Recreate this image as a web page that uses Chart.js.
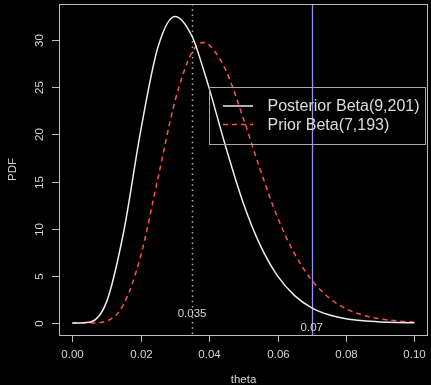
<!DOCTYPE html>
<html>
<head>
<meta charset="utf-8">
<script src="https://cdn.jsdelivr.net/npm/chart.js@4.4.1/dist/chart.umd.min.js"></script>
<style>
  html, body { margin: 0; padding: 0; background: #000; }
  canvas { display: block; }
</style>
</head>
<body>
<canvas id="betaChart" width="431" height="385"></canvas>
<script>
// values
const THETA = [0, 0.005, 0.01, 0.015, 0.02, 0.025, 0.03, 0.035, 0.0385, 0.04, 0.045,
               0.05, 0.055, 0.06, 0.065, 0.07, 0.075, 0.08, 0.085, 0.09, 0.095, 0.1];
const POSTERIOR_PDF = [0, 0.09, 2.24, 9.65, 20.4, 29.2, 32.5, 30.4, 26.7, 24.9, 18.5,
                       12.7, 8.2, 4.99, 2.9, 1.61, 0.87, 0.45, 0.23, 0.11, 0.05, 0.03];
const PRIOR_PDF = [0, 0.002, 0.21, 1.98, 7.13, 15.3, 23.5, 28.7, 29.75, 29.5, 26.7,
                   21.7, 16.2, 11.2, 7.34, 4.54, 2.69, 1.52, 0.83, 0.44, 0.22, 0.11];
const X_TICKS = [0, 0.02, 0.04, 0.06, 0.08, 0.10];
const Y_TICKS = [0, 5, 10, 15, 20, 25, 30];
const MARKERS = [0.035, 0.07];
const MARKER_LABELS = ['0.035', '0.07'];
const MARKER_LABEL_Y = [1, -0.5];
const LEGEND_LABELS = ['Posterior Beta(9,201)', 'Prior Beta(7,193)'];

const FG = '#d4d4d4';
const LINE_FG = '#bdbdbd';
const FONT = '"Liberation Sans", Arial, sans-serif';
const WHITE = '#ececec';
const RED = '#ff5050';

const overlay = {
    id: 'overlay',
    beforeDatasetsDraw(chart) {
        const { ctx, chartArea: a, scales: { x } } = chart;
        ctx.save();
        // dotted line at 0.035, solid blue at 0.07
        MARKERS.forEach((v, i) => {
            const px = Math.round(x.getPixelForValue(v)) + 0.5;
            ctx.beginPath();
            if (i === 0) {
                ctx.strokeStyle = '#b0b0b0';
                ctx.lineWidth = 1.5;
                ctx.setLineDash([1.5, 3.8]);
            } else {
                ctx.strokeStyle = '#9494e6';
                ctx.lineWidth = 1.3;
                ctx.setLineDash([]);
            }
            ctx.moveTo(px, a.top);
            ctx.lineTo(px, a.bottom);
            ctx.stroke();
        });
        ctx.restore();
    },
    afterDraw(chart) {
        const { ctx, chartArea: a, scales: { x, y } } = chart;
        ctx.save();
        ctx.setLineDash([]);
        ctx.strokeStyle = LINE_FG;
        ctx.lineWidth = 1;

        // box
        ctx.strokeRect(Math.round(a.left) + 0.5, Math.round(a.top) + 0.5,
                       Math.round(a.right - a.left) - 1, Math.round(a.bottom - a.top));

        ctx.fillStyle = FG;
        ctx.font = '11.5px ' + FONT;

        // x ticks
        ctx.textAlign = 'center';
        ctx.textBaseline = 'middle';
        X_TICKS.forEach(v => {
            const px = Math.round(x.getPixelForValue(v)) + 0.5;
            ctx.beginPath();
            ctx.moveTo(px, a.bottom);
            ctx.lineTo(px, a.bottom + 7);
            ctx.stroke();
            ctx.fillText(v.toFixed(2), px, a.bottom + 20);
        });

        // y ticks, labels parallel to the axis
        Y_TICKS.forEach(v => {
            const py = Math.round(y.getPixelForValue(v)) + 0.5;
            ctx.beginPath();
            ctx.moveTo(a.left, py);
            ctx.lineTo(a.left - 7, py);
            ctx.stroke();
            ctx.save();
            ctx.translate(a.left - 19, py);
            ctx.rotate(-Math.PI / 2);
            ctx.fillText(String(v), 0, 0);
            ctx.restore();
        });

        // axis titles
        ctx.fillText('theta', (a.left + a.right) / 2, 380);
        ctx.save();
        ctx.translate(13, (a.top + a.bottom) / 2);
        ctx.rotate(-Math.PI / 2);
        ctx.fillText('PDF', 0, 0);
        ctx.restore();

        // marker labels
        MARKERS.forEach((v, i) => {
            ctx.fillText(MARKER_LABELS[i], x.getPixelForValue(v), y.getPixelForValue(MARKER_LABEL_Y[i]));
        });

        // legend
        ctx.strokeStyle = '#a8a8a8';
        ctx.strokeRect(209.5, 87.5, 216, 57);
        ctx.font = '16px ' + FONT;
        ctx.textAlign = 'left';
        const rows = [106, 124.5];
        rows.forEach((ry, i) => {
            ctx.beginPath();
            ctx.strokeStyle = i === 0 ? WHITE : RED;
            ctx.lineWidth = 1.5;
            ctx.setLineDash(i === 0 ? [] : [5, 4]);
            ctx.moveTo(223, ry);
            ctx.lineTo(253, ry);
            ctx.stroke();
            ctx.fillStyle = '#dcdcdc';
            ctx.fillText(LEGEND_LABELS[i], 267.5, ry + 1);
        });
        ctx.restore();
    }
};

const ctx = document.getElementById('betaChart').getContext('2d');
const betaChart = new Chart(ctx, {
    type: 'line',
    data: {
        datasets: [{
            label: LEGEND_LABELS[0],
            data: THETA.map((t, i) => ({ x: t, y: POSTERIOR_PDF[i] })),
            borderColor: WHITE,
            borderWidth: 1.5,
            pointRadius: 0,
            cubicInterpolationMode: 'monotone',
            fill: false
        }, {
            label: LEGEND_LABELS[1],
            data: THETA.map((t, i) => ({ x: t, y: PRIOR_PDF[i] })),
            borderColor: RED,
            borderWidth: 1.5,
            borderDash: [5, 4],
            pointRadius: 0,
            cubicInterpolationMode: 'monotone',
            fill: false
        }]
    },
    options: {
        responsive: false,
        animation: false,
        devicePixelRatio: 1,
        layout: { padding: { left: 59, right: 3, top: 4, bottom: 50 } },
        plugins: { legend: { display: false }, tooltip: { enabled: false } },
        scales: {
            x: { type: 'linear', display: false, min: -0.0039, max: 0.104 },
            y: { type: 'linear', display: false, min: -1.27, max: 33.82 }
        }
    },
    plugins: [overlay]
});
</script>
</body>
</html>
